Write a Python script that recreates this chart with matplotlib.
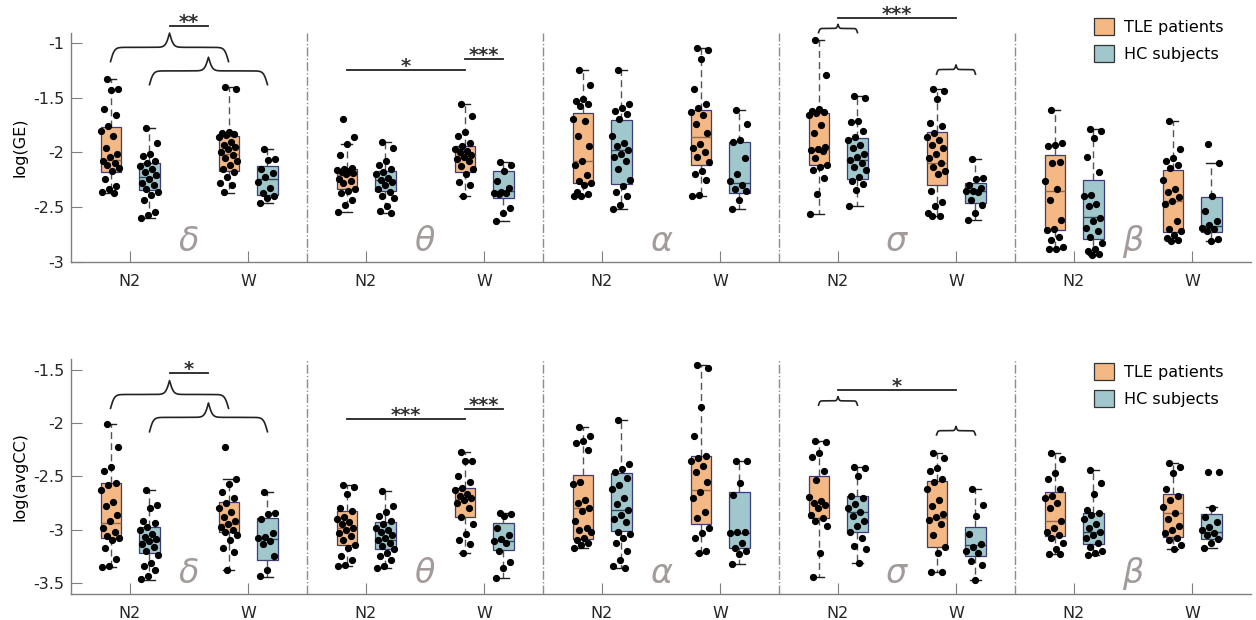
import numpy as np
import matplotlib.pyplot as plt
from matplotlib.patches import Patch

plt.rcParams['font.family'] = 'DejaVu Sans'
plt.rcParams['axes.unicode_minus'] = False

bands = ['δ', 'θ', 'α', 'σ', 'β']
states = ['N2', 'W']
groups = ['TLE patients', 'HC subjects']
group_colors = ['#F3B883', '#9FC7CC']
median_colors = ['#9a6a48', '#2f4a58']

# box stats per band, order: TLE N2, HC N2, TLE W, HC W ; (low whisker, q1, median, q3, high whisker)
ge_box = [
    [(-2.37, -2.18, -2.07, -1.77, -1.33), (-2.60, -2.34, -2.22, -2.10, -1.78),
     (-2.37, -2.17, -2.01, -1.85, -1.40), (-2.46, -2.39, -2.24, -2.12, -1.97)],
    [(-2.54, -2.33, -2.21, -2.15, -1.92), (-2.55, -2.35, -2.25, -2.17, -1.90),
     (-2.40, -2.18, -2.03, -1.94, -1.56), (-2.63, -2.42, -2.35, -2.17, -2.09)],
    [(-2.40, -2.28, -2.08, -1.64, -1.25), (-2.52, -2.29, -1.98, -1.70, -1.25),
     (-2.40, -2.11, -1.86, -1.61, -1.05), (-2.52, -2.37, -2.28, -1.90, -1.61)],
    [(-2.56, -2.11, -1.98, -1.64, -0.97), (-2.49, -2.24, -2.07, -1.87, -1.48),
     (-2.58, -2.30, -2.10, -1.81, -1.42), (-2.62, -2.46, -2.35, -2.28, -2.06)],
    [(-2.88, -2.71, -2.35, -2.02, -1.61), (-2.94, -2.79, -2.59, -2.25, -1.79),
     (-2.81, -2.73, -2.44, -2.16, -1.71), (-2.81, -2.73, -2.67, -2.41, -2.10)],
]
cc_box = [
    [(-3.35, -3.08, -2.94, -2.56, -2.01), (-3.47, -3.22, -3.11, -2.97, -2.63),
     (-3.38, -3.02, -2.95, -2.74, -2.52), (-3.44, -3.28, -3.09, -2.89, -2.65)],
    [(-3.34, -3.14, -2.98, -2.82, -2.58), (-3.36, -3.18, -3.10, -2.93, -2.64),
     (-3.22, -2.88, -2.71, -2.61, -2.27), (-3.45, -3.19, -3.11, -2.94, -2.84)],
    [(-3.17, -3.09, -2.80, -2.49, -2.04), (-3.36, -3.01, -2.81, -2.47, -1.97),
     (-3.22, -2.95, -2.63, -2.31, -1.45), (-3.32, -3.17, -3.03, -2.65, -2.35)],
    [(-3.44, -2.89, -2.75, -2.50, -2.17), (-3.31, -3.02, -2.83, -2.68, -2.41),
     (-3.40, -3.16, -2.89, -2.54, -2.28), (-3.47, -3.25, -3.14, -2.97, -2.62)],
    [(-3.23, -3.06, -2.92, -2.65, -2.28), (-3.24, -3.13, -3.02, -2.84, -2.44),
     (-3.18, -3.07, -2.84, -2.66, -2.37), (-3.17, -3.09, -3.02, -2.85, -2.79)],
]

# individual subjects, log(GE)
ge_delta = [
    [-1.33, -1.42, -1.43, -1.60, -1.66, -1.76, -1.80, -1.85, -1.96, -2.01, -2.04,
     -2.08, -2.10, -2.11, -2.14, -2.17, -2.24, -2.31, -2.33, -2.36, -2.37],
    [-1.78, -1.91, -2.01, -2.03, -2.08, -2.10, -2.12, -2.15, -2.18, -2.21, -2.24,
     -2.28, -2.30, -2.33, -2.36, -2.39, -2.43, -2.54, -2.57, -2.60],
    [-1.40, -1.42, -1.81, -1.82, -1.83, -1.84, -1.86, -1.90, -1.93, -1.95, -1.97,
     -2.00, -2.02, -2.05, -2.08, -2.11, -2.15, -2.18, -2.22, -2.28, -2.30, -2.36],
    [-1.97, -2.06, -2.07, -2.15, -2.19, -2.22, -2.27, -2.32, -2.37, -2.40, -2.42, -2.46],
]
ge_theta = [
    [-1.69, -1.86, -1.92, -2.02, -2.14, -2.15, -2.16, -2.17, -2.18, -2.19, -2.20,
     -2.24, -2.26, -2.28, -2.33, -2.35, -2.37, -2.43, -2.48, -2.54],
    [-1.90, -1.96, -2.08, -2.11, -2.15, -2.18, -2.20, -2.23, -2.25, -2.27, -2.30,
     -2.33, -2.36, -2.40, -2.42, -2.49, -2.53, -2.55],
    [-1.56, -1.67, -1.81, -1.85, -1.91, -1.94, -1.97, -1.99, -2.00, -2.02, -2.04,
     -2.06, -2.08, -2.12, -2.15, -2.20, -2.27, -2.30, -2.40],
    [-2.09, -2.11, -2.17, -2.26, -2.32, -2.36, -2.37, -2.37, -2.38, -2.51, -2.55, -2.63],
]
ge_alpha = [
    [-1.25, -1.38, -1.51, -1.53, -1.56, -1.58, -1.69, -1.71, -1.85, -1.94, -2.08,
     -2.11, -2.21, -2.26, -2.28, -2.30, -2.36, -2.38, -2.40, -2.40],
    [-1.25, -1.56, -1.59, -1.62, -1.65, -1.69, -1.85, -1.91, -1.94, -1.98, -2.01,
     -2.04, -2.08, -2.15, -2.25, -2.31, -2.36, -2.40, -2.48, -2.52],
    [-1.05, -1.06, -1.15, -1.42, -1.56, -1.59, -1.63, -1.66, -1.74, -1.82, -1.92,
     -1.96, -2.00, -2.04, -2.09, -2.17, -2.20, -2.25, -2.39, -2.40],
    [-1.61, -1.74, -1.89, -1.90, -2.05, -2.20, -2.26, -2.30, -2.33, -2.35, -2.43, -2.52],
]
ge_sigma = [
    [-0.97, -1.29, -1.60, -1.62, -1.63, -1.64, -1.66, -1.75, -1.82, -1.95, -1.97,
     -1.98, -1.99, -2.05, -2.11, -2.13, -2.16, -2.23, -2.38, -2.56],
    [-1.48, -1.50, -1.71, -1.72, -1.80, -1.86, -1.89, -1.93, -1.96, -2.01, -2.04,
     -2.07, -2.10, -2.13, -2.16, -2.22, -2.26, -2.29, -2.34, -2.49],
    [-1.42, -1.44, -1.51, -1.73, -1.76, -1.82, -1.86, -1.89, -1.93, -1.96, -2.01,
     -2.05, -2.10, -2.13, -2.17, -2.20, -2.35, -2.45, -2.49, -2.55, -2.58, -2.58],
    [-2.06, -2.23, -2.24, -2.30, -2.32, -2.35, -2.35, -2.36, -2.43, -2.48, -2.55, -2.62],
]
ge_beta = [
    [-1.61, -1.91, -1.93, -1.94, -2.09, -2.10, -2.26, -2.33, -2.43, -2.62, -2.70,
     -2.71, -2.77, -2.80, -2.86, -2.88, -2.88],
    [-1.79, -1.80, -1.87, -2.04, -2.18, -2.39, -2.40, -2.47, -2.49, -2.60, -2.63,
     -2.69, -2.72, -2.77, -2.83, -2.88, -2.90, -2.93, -2.94],
    [-1.71, -1.97, -2.05, -2.08, -2.11, -2.14, -2.25, -2.33, -2.36, -2.41, -2.44,
     -2.47, -2.63, -2.70, -2.72, -2.75, -2.78, -2.80, -2.81],
    [-1.92, -2.10, -2.40, -2.53, -2.63, -2.66, -2.69, -2.70, -2.72, -2.79, -2.81],
]

# individual subjects, log(avgCC)
cc_delta = [
    [-2.01, -2.22, -2.41, -2.45, -2.56, -2.58, -2.63, -2.74, -2.78, -2.86, -2.92,
     -2.98, -3.02, -3.06, -3.08, -3.10, -3.17, -3.27, -3.34, -3.35],
    [-2.63, -2.77, -2.80, -2.92, -2.94, -2.97, -3.00, -3.04, -3.07, -3.09, -3.11,
     -3.13, -3.16, -3.20, -3.24, -3.31, -3.34, -3.38, -3.43, -3.46],
    [-2.22, -2.52, -2.57, -2.65, -2.70, -2.75, -2.80, -2.83, -2.88, -2.92, -2.95,
     -2.97, -3.00, -3.02, -3.05, -3.10, -3.17, -3.21, -3.38],
    [-2.65, -2.84, -2.85, -2.90, -3.03, -3.07, -3.08, -3.11, -3.13, -3.25, -3.38, -3.43],
]
cc_theta = [
    [-2.58, -2.60, -2.66, -2.80, -2.82, -2.88, -2.90, -2.93, -2.95, -2.98, -3.00,
     -3.03, -3.06, -3.10, -3.14, -3.17, -3.25, -3.28, -3.33, -3.34],
    [-2.64, -2.78, -2.83, -2.87, -2.92, -2.95, -2.98, -3.00, -3.02, -3.05, -3.08,
     -3.10, -3.12, -3.15, -3.18, -3.22, -3.25, -3.28, -3.34, -3.36],
    [-2.27, -2.35, -2.35, -2.50, -2.55, -2.61, -2.63, -2.66, -2.68, -2.70, -2.72,
     -2.75, -2.80, -2.88, -2.95, -3.04, -3.10, -3.13, -3.22],
    [-2.84, -2.85, -2.87, -2.98, -3.05, -3.09, -3.11, -3.12, -3.20, -3.30, -3.36, -3.45],
]
cc_alpha = [
    [-2.04, -2.12, -2.17, -2.19, -2.25, -2.55, -2.57, -2.72, -2.75, -2.80, -2.82,
     -2.92, -2.98, -3.00, -3.02, -3.08, -3.10, -3.12, -3.14, -3.17],
    [-1.97, -2.38, -2.43, -2.46, -2.51, -2.58, -2.62, -2.70, -2.76, -2.81, -2.86,
     -2.90, -2.93, -3.02, -3.04, -3.08, -3.12, -3.20, -3.28, -3.34, -3.36],
    [-1.45, -1.48, -1.85, -2.12, -2.31, -2.33, -2.35, -2.40, -2.46, -2.55, -2.65,
     -2.70, -2.83, -2.89, -2.98, -3.03, -3.08, -3.20, -3.22],
    [-2.35, -2.35, -2.56, -2.67, -3.02, -3.02, -3.03, -3.12, -3.17, -3.20, -3.23, -3.32],
]
cc_sigma = [
    [-2.17, -2.18, -2.28, -2.32, -2.45, -2.53, -2.69, -2.73, -2.75, -2.77, -2.80,
     -2.86, -2.89, -2.92, -2.96, -3.22, -3.44],
    [-2.41, -2.42, -2.50, -2.68, -2.70, -2.76, -2.80, -2.83, -2.87, -2.92, -2.96,
     -3.02, -3.08, -3.15, -3.18, -3.31],
    [-2.28, -2.33, -2.42, -2.45, -2.52, -2.55, -2.62, -2.72, -2.78, -2.85, -2.88,
     -2.91, -2.95, -3.05, -3.16, -3.22, -3.40, -3.40],
    [-2.62, -2.77, -2.87, -3.04, -3.13, -3.16, -3.20, -3.22, -3.29, -3.33, -3.47],
]
cc_beta = [
    [-2.28, -2.34, -2.47, -2.52, -2.62, -2.68, -2.70, -2.75, -2.80, -2.92, -2.98,
     -3.02, -3.05, -3.08, -3.12, -3.18, -3.23, -3.23],
    [-2.44, -2.56, -2.66, -2.81, -2.84, -2.86, -2.90, -2.95, -2.98, -3.02, -3.05,
     -3.08, -3.12, -3.16, -3.20, -3.22, -3.24],
    [-2.37, -2.41, -2.47, -2.62, -2.68, -2.72, -2.79, -2.84, -2.90, -2.96, -3.00,
     -3.03, -3.08, -3.10, -3.14, -3.18],
    [-2.46, -2.46, -2.80, -2.88, -2.93, -2.97, -3.00, -3.03, -3.05, -3.09, -3.12, -3.17],
]

ge_yticks = [-3, -2.5, -2, -1.5, -1]
ge_yticklabels = ['-3', '-2.5', '-2', '-1.5', '-1']
cc_yticks = [-3.5, -3, -2.5, -2, -1.5]
cc_yticklabels = ['-3.5', '-3', '-2.5', '-2', '-1.5']

# significance marks: brace = (band, state_a, group_a, state_b, group_b, base, height)
ge_braces = [(0, 0, 0, 1, 0, -1.17, 0.26), (0, 0, 1, 1, 1, -1.38, 0.25),
             (3, 0, 0, 0, 1, -0.905, 0.075), (3, 1, 0, 1, 1, -1.285, 0.085)]
# bars = (x_a, x_b, y, label) with x given as (band, state, group) or brace index
ge_bars = [(('brace', 0), ('brace', 1), -0.845, '**'),
           ((1, 0, 0), (1, 1, 0), -1.25, '*'),
           ((1, 1, 0), (1, 1, 1), -1.15, '***'),
           (('brace', 2), ('brace', 3), -0.77, '***')]
cc_braces = [(0, 0, 0, 1, 0, -1.86, 0.26), (0, 0, 1, 1, 1, -2.08, 0.27),
             (3, 0, 0, 0, 1, -1.83, 0.08), (3, 1, 0, 1, 1, -2.11, 0.08)]
cc_bars = [(('brace', 0), ('brace', 1), -1.53, '*'),
           ((1, 0, 0), (1, 1, 0), -1.96, '***'),
           ((1, 1, 0), (1, 1, 1), -1.87, '***'),
           (('brace', 2), ('brace', 3), -1.69, '*')]


def xpos(band, state, group):
    return 1 + 2 * band + state + (-0.165 if group == 0 else 0.165)


def draw_brace(ax, x0, x1, y0, h):
    xs = np.linspace(x0, x1, 401)
    half = xs[:201]
    beta = 60.0 / (x1 - x0)
    yh = 1 / (1 + np.exp(-beta * (half - half[0]))) + 1 / (1 + np.exp(-beta * (half - half[-1])))
    yfull = np.concatenate([yh, yh[-2::-1]])
    ax.plot(xs, y0 + (yfull - 0.5) * h, color='#222222', lw=1.2, clip_on=False)


def draw_row(ax, data, boxes, ylim, yticks, yticklabels, ylabel, braces, bars):
    for b in range(5):
        for k in range(4):
            s, g = k // 2, k % 2
            x = xpos(b, s, g)
            lo, q1, med, q3, hi = boxes[b][k]
            st = dict(whislo=lo, q1=q1, med=med, q3=q3, whishi=hi, fliers=[])
            ax.bxp([st], positions=[x], widths=0.17, patch_artist=True, showfliers=False,
                   manage_ticks=False, capwidths=0.09,
                   boxprops=dict(facecolor=group_colors[g], edgecolor='#3c3c78', lw=0.9),
                   medianprops=dict(color=median_colors[g], lw=1.0),
                   whiskerprops=dict(color='#555555', lw=1.0, linestyle=(0, (5, 3))),
                   capprops=dict(color='#222222', lw=1.0))
            pts = np.array(data[b][k])
            idx = np.arange(len(pts))
            offs = (((idx * 0.618034 + 0.3) % 1.0) - 0.5) * 0.16
            ax.plot(x + offs, pts, 'o', color='black', ms=4.2, zorder=4, clip_on=False)
        ax.text(1.5 + 2 * b, ylim[0] + 0.017 * (ylim[1] - ylim[0]), bands[b], fontsize=24,
                style='italic', color='#a39a9a', ha='center', va='bottom')
    for b in range(4):
        ax.axvline(2.5 + 2 * b, color='#8c8c8c', lw=1.0, linestyle='-.')

    mids = []
    for (b, sa, ga, sb, gb, base, h) in braces:
        x0, x1 = xpos(b, sa, ga), xpos(b, sb, gb)
        draw_brace(ax, x0, x1, base, h)
        mids.append((x0 + x1) / 2)
    for (a, c, y, label) in bars:
        xa = mids[a[1]] if a[0] == 'brace' else xpos(*a)
        xc = mids[c[1]] if c[0] == 'brace' else xpos(*c)
        ax.plot([xa, xc], [y, y], color='#222222', lw=1.3, clip_on=False)
        ax.annotate(label, xy=((xa + xc) / 2, y), xytext=(0, -1.5), textcoords='offset points',
                    ha='center', va='baseline', fontsize=14, fontweight='bold', color='#333333',
                    annotation_clip=False)

    ax.set_xlim(0.5, 10.5)
    ax.set_ylim(*ylim)
    ax.set_xticks([1 + 2 * b + s for b in range(5) for s in range(2)])
    ax.set_xticklabels(states * 5)
    ax.set_yticks(yticks)
    ax.set_yticklabels(yticklabels)
    ax.set_ylabel(ylabel, fontsize=11.5, labelpad=4)
    for sp in ['top', 'right']:
        ax.spines[sp].set_visible(False)
    for sp in ['left', 'bottom']:
        ax.spines[sp].set_color('#808080')
        ax.spines[sp].set_linewidth(1.0)
    ax.tick_params(axis='both', direction='in', length=8, color='#808080',
                   labelsize=11.5, labelcolor='#262626')
    ax.tick_params(axis='x', pad=9)
    ax.tick_params(axis='y', pad=5)


fig = plt.figure(figsize=(12.56, 6.2), dpi=100)
ax1 = fig.add_axes([71 / 1256, 1 - 262 / 620, 1180 / 1256, 229 / 620])
ax2 = fig.add_axes([71 / 1256, 1 - 594 / 620, 1180 / 1256, 235 / 620])

draw_row(ax1, [ge_delta, ge_theta, ge_alpha, ge_sigma, ge_beta], ge_box, (-3.0, -0.909),
         ge_yticks, ge_yticklabels, 'log(GE)', ge_braces, ge_bars)
draw_row(ax2, [cc_delta, cc_theta, cc_alpha, cc_sigma, cc_beta], cc_box, (-3.603, -1.397),
         cc_yticks, cc_yticklabels, 'log(avgCC)', cc_braces, cc_bars)

handles = [Patch(facecolor=group_colors[i], edgecolor='#333333', lw=0.9, label=groups[i])
           for i in range(2)]
for top in [18, 363]:
    fig.legend(handles=handles, loc='upper left', bbox_to_anchor=(1094 / 1256, 1 - top / 620),
               frameon=False, fontsize=11.5, borderpad=0, borderaxespad=0,
               handlelength=1.25, handleheight=1.25, handletextpad=0.6, labelspacing=0.65)

fig.savefig('out.png', dpi=100)
